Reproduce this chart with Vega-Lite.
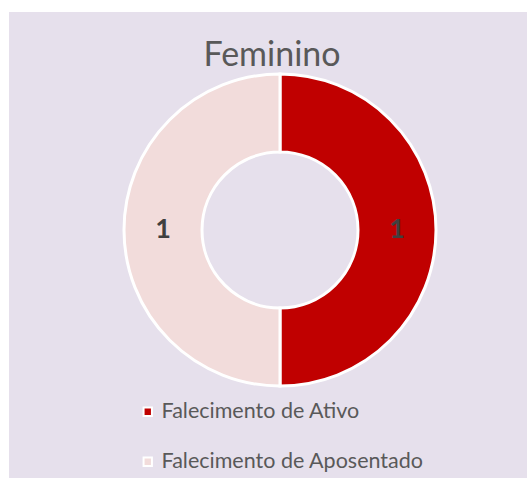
{
  "$schema": "https://vega.github.io/schema/vega-lite/v6.json",
  "width": 518,
  "height": 472,
  "autosize": "none",
  "padding": {"left": 9, "top": 12, "right": 0, "bottom": 0},
  "background": "white",
  "view": {"fill": "#E6E0EC", "stroke": null},
  "title": {
    "text": "Feminino",
    "font": "Lato",
    "fontSize": 34,
    "fontWeight": "normal",
    "color": "#595959",
    "anchor": "middle",
    "baseline": "alphabetic",
    "offset": -88,
    "dx": 4
  },
  "data": {
    "values": [
      {"categoria": "Falecimento de Ativo", "valor": 1, "ordem": 1},
      {"categoria": "Falecimento de Aposentado", "valor": 1, "ordem": 2}
    ]
  },
  "encoding": {
    "theta": {"field": "valor", "type": "quantitative", "stack": true},
    "order": {"field": "ordem", "type": "quantitative"},
    "color": {
      "field": "categoria",
      "type": "nominal",
      "sort": ["Falecimento de Ativo", "Falecimento de Aposentado"],
      "scale": {
        "domain": ["Falecimento de Ativo", "Falecimento de Aposentado"],
        "range": ["#C00000", "#F2DCDB"]
      },
      "legend": {
        "title": null,
        "orient": "none",
        "legendX": 128,
        "legendY": 389,
        "padding": 0,
        "symbolType": "square",
        "symbolSize": 70,
        "symbolStrokeColor": "white",
        "symbolStrokeWidth": 2,
        "symbolOpacity": 1,
        "labelFont": "Lato",
        "labelFontSize": 21.5,
        "labelLimit": 400,
        "labelColor": "#595959",
        "labelOffset": 3,
        "rowPadding": 27
      }
    }
  },
  "layer": [
    {
      "mark": {
        "type": "arc",
        "outerRadius": 156,
        "innerRadius": 78,
        "stroke": "white",
        "strokeWidth": 3,
        "xOffset": 12,
        "yOffset": -18
      }
    },
    {
      "mark": {
        "type": "text",
        "radius": 117,
        "font": "Lato",
        "fontSize": 27,
        "fontWeight": "bold",
        "xOffset": 12,
        "yOffset": -18
      },
      "encoding": {
        "text": {"field": "valor", "type": "quantitative"},
        "color": {"value": "#404040"}
      }
    }
  ],
  "config": {
    "view": {"fill": "#E6E0EC", "stroke": null}
  }
}
